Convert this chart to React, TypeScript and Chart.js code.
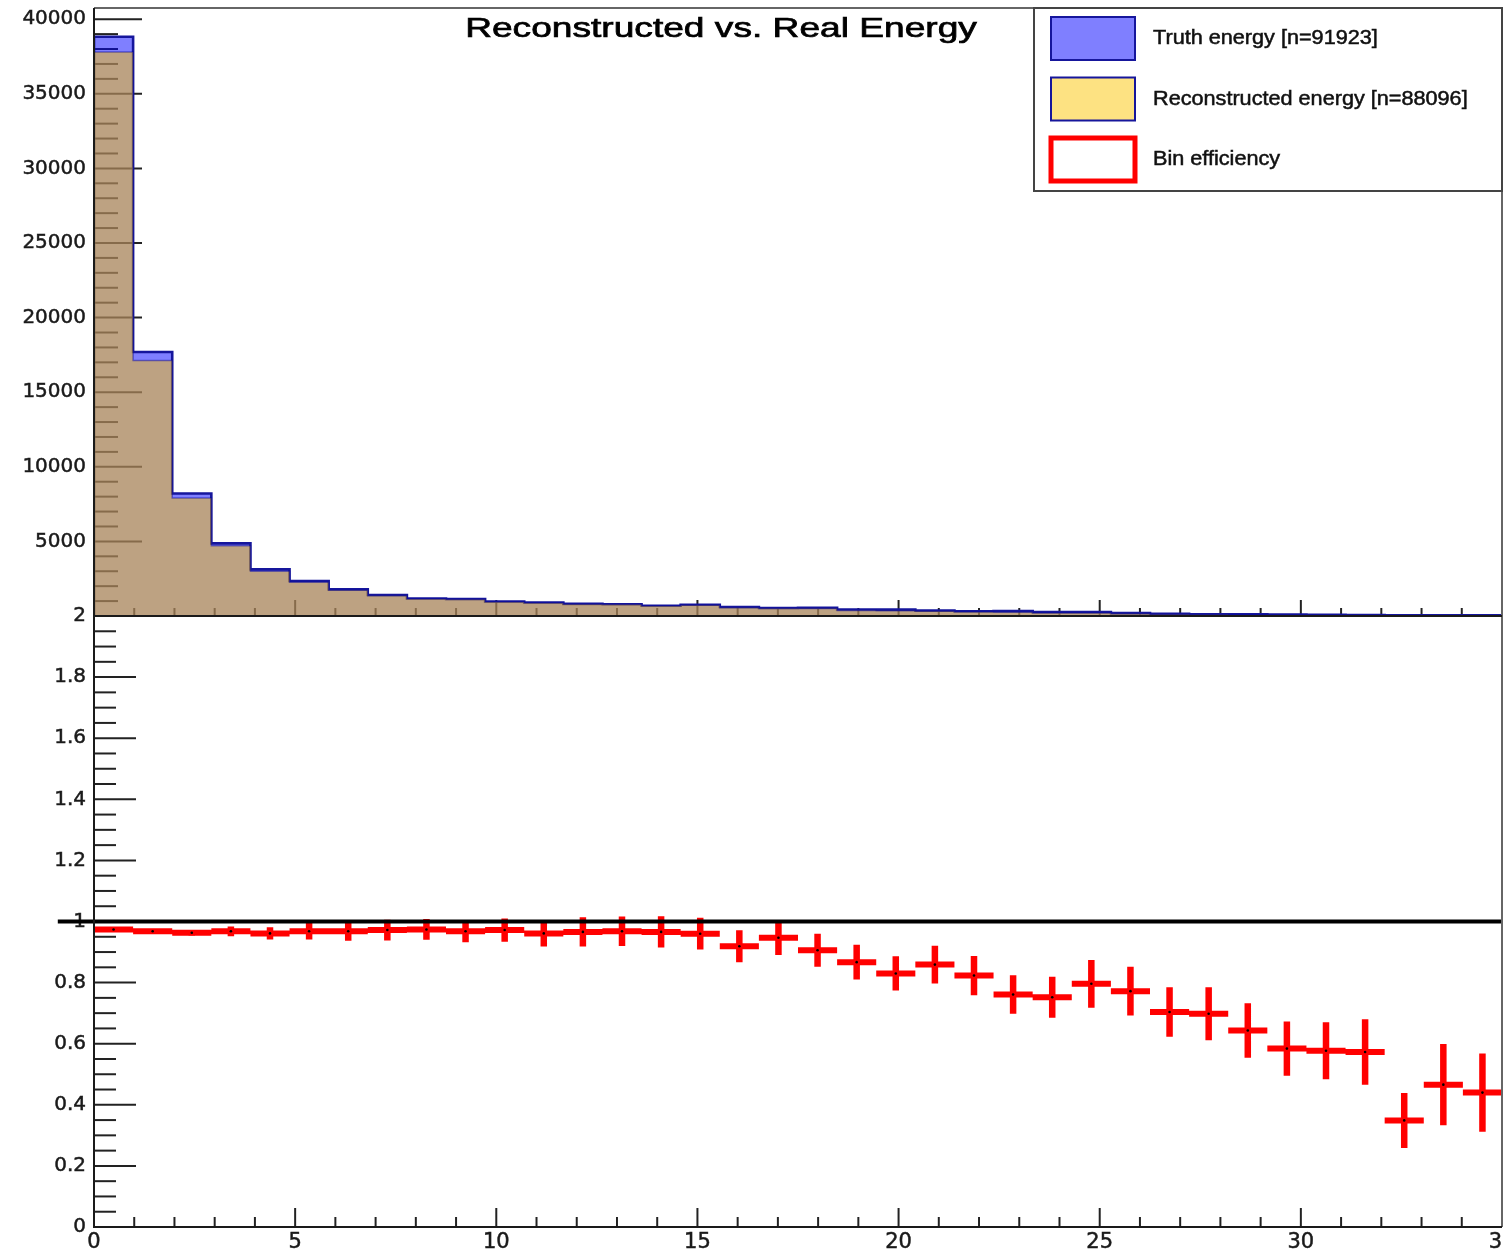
import React, { useEffect, useRef } from "react";
import { Chart, registerables } from "chart.js";

Chart.register(...registerables);

const X_MAX = 35;
const N_BINS = 36;
const Y_TOP_MAX = 40750;
const Y_BOT_MAX = 2;
const TITLE = "Reconstructed vs. Real Energy";

const truthCounts = [
  38820, 17690, 8210, 4865, 3125, 2343, 1785, 1405, 1170, 1140,
  970, 900, 815, 790, 690, 750, 600, 535, 555, 435,
  430, 360, 320, 330, 260, 260, 190, 140, 120, 110,
  95, 80, 70, 55, 50, 45,
];
const recoCounts = [
  37800, 17120, 7910, 4710, 3000, 2270, 1730, 1365, 1140, 1100,
  940, 865, 785, 765, 665, 720, 550, 505, 505, 375,
  355, 310, 265, 250, 195, 205, 145, 100, 85, 70,
  55, 45, 40, 20, 23, 20,
];
const efficiency = [
  0.974, 0.968, 0.963, 0.968, 0.961, 0.968, 0.968, 0.972, 0.974, 0.968,
  0.972, 0.961, 0.966, 0.968, 0.966, 0.96, 0.919, 0.947, 0.906, 0.867,
  0.83, 0.859, 0.823, 0.761, 0.752, 0.796, 0.772, 0.704, 0.698, 0.643,
  0.584, 0.577, 0.573, 0.349, 0.466, 0.44,
];
const efficiencyErr = [
  0.004, 0.006, 0.009, 0.016, 0.02, 0.027, 0.031, 0.034, 0.034, 0.036,
  0.038, 0.043, 0.048, 0.048, 0.051, 0.052, 0.052, 0.057, 0.054, 0.057,
  0.056, 0.062, 0.064, 0.063, 0.067, 0.078, 0.08, 0.081, 0.087, 0.089,
  0.089, 0.093, 0.107, 0.09, 0.133, 0.128,
];

const xTickValues = [0, 5, 10, 15, 20, 25, 30, 35];
const yTopTickValues = [5000, 10000, 15000, 20000, 25000, 30000, 35000, 40000];
const yBotTickValues = [0, 0.2, 0.4, 0.6, 0.8, 1, 1.2, 1.4, 1.6, 1.8, 2];
const legendLabels = [
  "Truth energy [n=91923]",
  "Reconstructed energy [n=88096]",
  "Bin efficiency",
];
const REF_LEVEL = 1;
const REF_X_START = -0.9;

const X_MINOR = 1;
const X_MAJOR_EVERY = 5;
const YT_MINOR = 1000;
const YT_MAJOR_EVERY = 5;
const YB_MINOR = 0.05;
const YB_MAJOR_EVERY = 4;

const TRUTH_FILL = "rgba(0,0,255,0.5)";
const TRUTH_LINE = "#16169c";
const RECO_FILL = "rgba(251,197,5,0.5)";
const RECO_LINE = "rgba(0,0,150,0.45)";
const EFF_COLOR = "#ff0000";
const TICK_COLOR = "#1a1a1a";

const binEdge = (k: number) => (k * X_MAX) / N_BINS;

function histPoints(counts: number[]) {
  const pts: { x: number; y: number }[] = [{ x: 0, y: 0 }];
  counts.forEach((c, k) => pts.push({ x: binEdge(k), y: c }));
  pts.push({ x: X_MAX, y: 0 });
  return pts;
}

const effH: { x: number; y: number | null }[] = [];
const effV: { x: number; y: number | null }[] = [];
const effC: { x: number; y: number }[] = [];
efficiency.forEach((v, k) => {
  const lo = binEdge(k);
  const hi = binEdge(k + 1);
  const c = (lo + hi) / 2;
  effH.push({ x: lo, y: v }, { x: hi, y: v }, { x: hi, y: null });
  effV.push(
    { x: c, y: v - efficiencyErr[k] },
    { x: c, y: v + efficiencyErr[k] },
    { x: c, y: null }
  );
  effC.push({ x: c, y: v });
});

function stretchText(
  ctx: CanvasRenderingContext2D,
  text: string,
  x: number,
  y: number,
  font: string,
  sx: number,
  align: "left" | "center",
  stroke: number
) {
  ctx.save();
  ctx.font = font;
  ctx.textAlign = "left";
  ctx.textBaseline = "alphabetic";
  const w = ctx.measureText(text).width * sx;
  const x0 = align === "center" ? x - w / 2 : x;
  ctx.translate(x0, y);
  ctx.scale(sx, 1);
  ctx.fillText(text, 0, 0);
  if (stroke > 0) {
    ctx.lineWidth = stroke;
    ctx.strokeStyle = ctx.fillStyle as string;
    ctx.strokeText(text, 0, 0);
  }
  ctx.restore();
}

const rootPlugin = {
  id: "rootStyle",
  beforeDatasetsDraw(chart: any) {
    const ctx: CanvasRenderingContext2D = chart.ctx;
    const xs = chart.scales.x;
    const yt = chart.scales.yTop;
    const yb = chart.scales.yBot;
    const seg = (x1: number, y1: number, x2: number, y2: number) => {
      ctx.beginPath();
      ctx.moveTo(x1, y1);
      ctx.lineTo(x2, y2);
      ctx.stroke();
    };
    ctx.save();
    ctx.strokeStyle = "#222";
    ctx.lineWidth = 2;
    for (let i = 1; i * YT_MINOR <= yt.max; i++) {
      const py = yt.getPixelForValue(i * YT_MINOR);
      const major = i % YT_MAJOR_EVERY === 0;
      seg(xs.left, py, xs.left + (major ? 48 : 24), py);
    }
    for (let i = 1; i * YB_MINOR < yb.max - 1e-9; i++) {
      const py = yb.getPixelForValue(i * YB_MINOR);
      const major = i % YB_MAJOR_EVERY === 0;
      seg(xs.left, py, xs.left + (major ? 42 : 22), py);
    }
    for (let i = 0; i * X_MINOR <= X_MAX; i++) {
      const px = xs.getPixelForValue(i * X_MINOR);
      const major = i % X_MAJOR_EVERY === 0;
      seg(px, yt.bottom, px, yt.bottom - (major ? 16 : 8));
      seg(px, yb.bottom, px, yb.bottom - (major ? 19 : 10));
    }
    ctx.restore();
  },
  afterDatasetsDraw(chart: any) {
    const ctx: CanvasRenderingContext2D = chart.ctx;
    const xs = chart.scales.x;
    const yt = chart.scales.yTop;
    const yb = chart.scales.yBot;
    ctx.save();
    ctx.lineWidth = 2;
    ctx.strokeStyle = "#666";
    ctx.beginPath();
    ctx.moveTo(xs.left, yt.top);
    ctx.lineTo(xs.right, yt.top);
    ctx.lineTo(xs.right, yb.bottom);
    ctx.stroke();
    ctx.strokeStyle = "#1a1a1a";
    ctx.beginPath();
    ctx.moveTo(xs.left, yt.top);
    ctx.lineTo(xs.left, yb.bottom);
    ctx.lineTo(xs.right, yb.bottom);
    ctx.moveTo(xs.left, yt.bottom);
    ctx.lineTo(xs.right, yt.bottom);
    ctx.stroke();
    ctx.restore();
  },
  afterDraw(chart: any) {
    const ctx: CanvasRenderingContext2D = chart.ctx;
    const area = chart.chartArea;
    ctx.save();
    ctx.fillStyle = "#000";
    stretchText(ctx, TITLE, 721, area.top + 29, '27.5px "Liberation Sans"', 1.35, "center", 0.7);

    const lw = 468;
    const lh = 183;
    const lx = area.right - lw;
    const ly = area.top;
    ctx.fillStyle = "#fff";
    ctx.fillRect(lx, ly, lw, lh);
    ctx.strokeStyle = "#444";
    ctx.lineWidth = 2;
    ctx.strokeRect(lx, ly, lw, lh);
    const ds = chart.data.datasets;
    const rows = [
      { fill: ds[0].backgroundColor, stroke: TRUTH_LINE, width: 2 },
      { fill: ds[1].backgroundColor, stroke: TRUTH_LINE, width: 2 },
      { fill: "#fff", stroke: EFF_COLOR, width: 5 },
    ];
    rows.forEach((r, i) => {
      const by = ly + 9 + i * 60.5;
      const bx = lx + 17;
      ctx.fillStyle = "#fff";
      ctx.fillRect(bx, by, 84, 43);
      ctx.fillStyle = r.fill;
      ctx.fillRect(bx, by, 84, 43);
      ctx.strokeStyle = r.stroke;
      ctx.lineWidth = r.width;
      ctx.strokeRect(bx, by, 84, 43);
      ctx.fillStyle = "#111";
      stretchText(ctx, legendLabels[i], lx + 119, by + 27, '19.5px "Liberation Sans"', 1.11, "left", 0.5);
    });
    ctx.restore();
  },
};

const yTickOpts = {
  font: { family: "DejaVu Sans", size: 20 },
  color: TICK_COLOR,
  textStrokeColor: TICK_COLOR,
  textStrokeWidth: 0.5,
  padding: 8,
  autoSkip: false,
};

const CANVAS_W = 1506;
const CANVAS_H = 1252;

export default function App() {
  const ref = useRef<HTMLCanvasElement>(null);
  useEffect(() => {
    if (!ref.current) return;
    const chart = new Chart(ref.current, {
      type: "line",
      data: {
        datasets: [
          {
            label: legendLabels[0],
            data: histPoints(truthCounts),
            yAxisID: "yTop",
            stepped: "before",
            fill: "origin",
            backgroundColor: TRUTH_FILL,
            borderColor: TRUTH_LINE,
            borderWidth: 2.6,
            pointRadius: 0,
            order: 5,
          },
          {
            label: legendLabels[1],
            data: histPoints(recoCounts),
            yAxisID: "yTop",
            stepped: "before",
            fill: "origin",
            backgroundColor: RECO_FILL,
            borderColor: RECO_LINE,
            borderWidth: 1.5,
            pointRadius: 0,
            order: 4,
          },
          {
            label: legendLabels[2],
            data: effH,
            yAxisID: "yBot",
            borderColor: EFF_COLOR,
            borderWidth: 6,
            borderCapStyle: "butt",
            pointRadius: 0,
            spanGaps: false,
            fill: false,
            order: 3,
          },
          {
            label: "eff-err",
            data: effV,
            yAxisID: "yBot",
            borderColor: EFF_COLOR,
            borderWidth: 6.5,
            borderCapStyle: "butt",
            pointRadius: 0,
            spanGaps: false,
            fill: false,
            order: 2,
          },
          {
            label: "eff-points",
            data: effC,
            yAxisID: "yBot",
            showLine: false,
            pointRadius: 1.3,
            pointBackgroundColor: "#000",
            pointBorderWidth: 0,
            order: 1,
          },
          {
            label: "reference",
            data: [
              { x: REF_X_START, y: REF_LEVEL },
              { x: X_MAX, y: REF_LEVEL },
            ],
            yAxisID: "yBot",
            borderColor: "#000",
            borderWidth: 4,
            pointRadius: 0,
            clip: false,
            fill: false,
            order: 0,
          },
        ] as any,
      },
      options: {
        responsive: false,
        devicePixelRatio: 1,
        animation: false,
        events: [],
        layout: { padding: { left: 0, top: 8, right: 1, bottom: 0 } },
        plugins: {
          legend: { display: false },
          title: { display: false },
          tooltip: { enabled: false },
        },
        scales: {
          x: {
            type: "linear",
            position: "bottom",
            min: 0,
            max: X_MAX,
            afterBuildTicks: (s: any) => {
              s.ticks = xTickValues.map((v) => ({ value: v }));
            },
            afterFit: (s: any) => {
              s.height = 25;
              s.paddingLeft = 0;
              s.paddingRight = 0;
            },
            ticks: {
              font: { family: "DejaVu Sans", size: 21 },
              color: TICK_COLOR,
              textStrokeColor: TICK_COLOR,
              textStrokeWidth: 0.5,
              padding: 3,
              maxRotation: 0,
              autoSkip: false,
            },
            grid: { display: false, drawTicks: false },
            border: { display: false },
          },
          yBot: {
            type: "linear",
            position: "left",
            stack: "panels",
            stackWeight: 611,
            weight: 0,
            min: 0,
            max: Y_BOT_MAX,
            afterBuildTicks: (s: any) => {
              s.ticks = yBotTickValues.map((v) => ({ value: v }));
            },
            afterFit: (s: any) => {
              s.width = 94;
              s.paddingTop = 0;
              s.paddingBottom = 0;
            },
            ticks: {
              ...yTickOpts,
              callback: (v: any) => String(Math.round(Number(v) * 100) / 100),
            },
            grid: { display: false, drawTicks: false },
            border: { display: false },
          },
          yTop: {
            type: "linear",
            position: "left",
            stack: "panels",
            stackWeight: 608,
            weight: 1,
            min: 0,
            max: Y_TOP_MAX,
            afterBuildTicks: (s: any) => {
              s.ticks = yTopTickValues.map((v) => ({ value: v }));
            },
            afterFit: (s: any) => {
              s.width = 94;
              s.paddingTop = 0;
              s.paddingBottom = 0;
            },
            ticks: {
              ...yTickOpts,
              callback: (v: any) => String(v),
            },
            grid: { display: false, drawTicks: false },
            border: { display: false },
          },
        } as any,
      },
      plugins: [rootPlugin],
    });
    return () => chart.destroy();
  }, []);

  return (
    <div
      style={{
        position: "absolute",
        left: 0,
        top: 0,
        width: 1503,
        height: CANVAS_H,
        overflow: "hidden",
        background: "#fff",
      }}
    >
      <canvas
        ref={ref}
        width={CANVAS_W}
        height={CANVAS_H}
        style={{ display: "block", width: CANVAS_W, height: CANVAS_H }}
      />
    </div>
  );
}
